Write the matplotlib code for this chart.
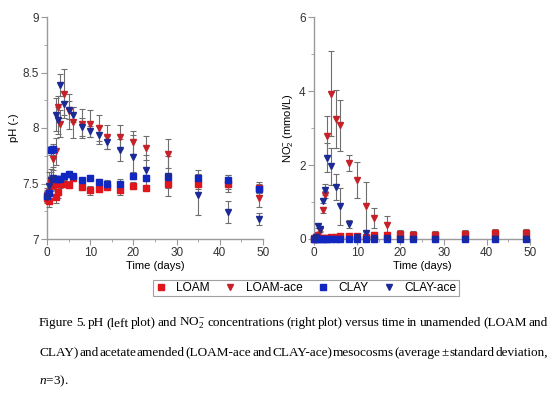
"""pH and nitrite time series in LOAM / CLAY mesocosms, with caption."""

import matplotlib

matplotlib.use("Agg")
import matplotlib.pyplot as plt
from matplotlib.ticker import MultipleLocator

plt.rcParams["font.family"] = ["Liberation Sans", "DejaVu Sans"]
plt.rcParams["mathtext.fontset"] = "custom"
plt.rcParams["mathtext.rm"] = "Liberation Serif"
plt.rcParams["mathtext.it"] = "Liberation Serif:italic"
plt.rcParams["mathtext.sf"] = "Liberation Sans"

days = [0, 0.5, 1, 1.5, 2, 2.5, 3, 4, 5, 6, 8, 10, 12, 14, 17, 20, 23, 28, 35, 42, 49]

# pH (-)
ph_loam = [7.37, 7.34, 7.52, 7.49, 7.38, 7.42, 7.50, 7.50, 7.49, 7.55, 7.47, 7.44,
           7.45, 7.47, 7.44, 7.48, 7.46, 7.50, 7.50, 7.50, 7.46]
ph_loam_sd = [0.04, 0.05, 0.05, 0.04, 0.06, 0.05, 0.04, 0.03, 0.03, 0.03, 0.03, 0.04,
              0.03, 0.03, 0.04, 0.03, 0.02, 0.04, 0.05, 0.05, 0.05]
ph_loam_ace = [7.40, 7.42, 7.50, 7.72, 7.79, 8.19, 8.04, 8.31, 8.15, 8.05, 8.04, 8.04,
               8.00, 7.92, 7.92, 7.87, 7.82, 7.77, 7.55, 7.50, 7.37]
ph_loam_ace_sd = [0.06, 0.08, 0.10, 0.10, 0.12, 0.10, 0.12, 0.22, 0.16, 0.14, 0.13, 0.12,
                  0.12, 0.11, 0.11, 0.10, 0.11, 0.13, 0.07, 0.08, 0.08]
ph_clay = [7.39, 7.41, 7.80, 7.81, 7.54, 7.54, 7.54, 7.57, 7.59, 7.57, 7.53, 7.55,
           7.51, 7.50, 7.50, 7.57, 7.55, 7.56, 7.55, 7.53, 7.45]
ph_clay_sd = [0.04, 0.05, 0.04, 0.05, 0.03, 0.03, 0.03, 0.02, 0.02, 0.02, 0.02, 0.03,
              0.03, 0.03, 0.04, 0.03, 0.03, 0.03, 0.04, 0.05, 0.05]
ph_clay_ace = [7.38, 7.48, 7.53, 7.55, 8.12, 8.07, 8.39, 8.22, 8.16, 8.12, 8.01, 7.97,
               7.94, 7.87, 7.80, 7.74, 7.62, 7.57, 7.40, 7.24, 7.18]
ph_clay_ace_sd = [0.06, 0.12, 0.10, 0.10, 0.15, 0.12, 0.10, 0.10, 0.08, 0.07, 0.08, 0.05,
                  0.08, 0.06, 0.10, 0.20, 0.14, 0.18, 0.18, 0.10, 0.05]

# NO2- (mmol/L)
no2_loam = [0.01, 0.02, 0.04, 0.03, 0.03, 0.04, 0.04, 0.05, 0.06, 0.07, 0.07, 0.08,
            0.05, 0.10, 0.10, 0.13, 0.12, 0.12, 0.14, 0.15, 0.15]
no2_loam_sd = [0.02, 0.02, 0.03, 0.03, 0.03, 0.03, 0.03, 0.04, 0.04, 0.05, 0.05, 0.06,
               0.06, 0.08, 0.08, 0.10, 0.09, 0.09, 0.10, 0.11, 0.12]
no2_loam_ace = [0.02, 0.05, 0.10, 0.25, 0.78, 1.20, 2.78, 3.93, 3.25, 3.07, 2.05, 1.60,
                0.88, 0.57, 0.38, 0.10, 0.10, 0.10, 0.10, 0.10, 0.10]
no2_loam_ace_sd = [0.02, 0.03, 0.05, 0.06, 0.08, 0.10, 0.55, 1.15, 0.78, 0.68, 0.22, 0.48,
                   0.67, 0.28, 0.25, 0.10, 0.08, 0.08, 0.10, 0.10, 0.10]
no2_clay = [0.00, 0.01, 0.01, 0.01, 0.01, 0.01, 0.01, 0.01, 0.01, 0.01, 0.01, 0.01,
            0.01, 0.01, 0.01, 0.00, 0.00, 0.00, 0.00, 0.00, 0.00]
no2_clay_sd = [0.01] * len(days)
no2_clay_ace = [0.01, 0.05, 0.36, 0.28, 1.03, 1.33, 2.20, 1.97, 1.40, 0.88, 0.40, 0.05,
                0.15, 0.03, 0.02, 0.01, 0.01, 0.01, 0.01, 0.01, 0.01]
no2_clay_ace_sd = [0.01, 0.03, 0.05, 0.06, 0.05, 0.15, 0.40, 0.50, 0.35, 0.50, 0.10, 0.05,
                   0.05, 0.02, 0.02, 0.01, 0.01, 0.01, 0.01, 0.01, 0.01]

labels = ["LOAM", "LOAM-ace", "CLAY", "CLAY-ace"]
colors = ["#e0161c", "#c62128", "#1028c0", "#1c2a96"]
markers = ["s", "v", "s", "v"]
sizes = [5.0, 4.6, 5.0, 4.6]

caption_lines = [
    "Figure 5. pH (left plot) and NO$_2^{-}$ concentrations (right plot) versus time in unamended (LOAM and",
    "CLAY) and acetate amended (LOAM-ace and CLAY-ace) mesocosms (average \u00b1 standard deviation,",
    "$n$=3).",
]

W, H = 554, 396
AXIS_GREY = "#9a9a9a"


def style_axis(ax):
    for side in ("top", "right"):
        ax.spines[side].set_visible(False)
    for side in ("left", "bottom"):
        ax.spines[side].set_color(AXIS_GREY)
        ax.spines[side].set_linewidth(1.0)
    ax.tick_params(which="both", direction="out", color=AXIS_GREY, labelcolor="#333333",
                   labelsize=8.5, pad=2)
    ax.tick_params(which="major", length=4)
    ax.tick_params(which="minor", length=2.5)
    ax.set_xlim(0, 50)
    ax.xaxis.set_major_locator(MultipleLocator(10))
    ax.xaxis.set_minor_locator(MultipleLocator(5))


def draw_series(ax, series):
    for (vals, sd), lab, col, mk, ms in zip(series, labels, colors, markers, sizes):
        h = ax.errorbar(days, vals, yerr=sd, fmt=mk, color=col, ms=ms, mec=col,
                        ecolor="#6e6e6e", elinewidth=0.8, capsize=2.2, capthick=0.8,
                        label=lab, clip_on=False, zorder=3)
        for part in h.lines[1] + h.lines[2][:1]:
            part.set_clip_on(False)


fig = plt.figure(figsize=(W / 100, H / 100), dpi=100)

ax1 = fig.add_axes([47 / W, 1 - 239 / H, 216 / W, 222 / H])
style_axis(ax1)
ax1.set_ylim(7, 9)
ax1.yaxis.set_minor_locator(MultipleLocator(0.25))
ax1.set_yticks([7, 7.5, 8, 8.5, 9], ["7", "7.5", "8", "8.5", "9"])
draw_series(ax1, [(ph_loam, ph_loam_sd), (ph_loam_ace, ph_loam_ace_sd),
                  (ph_clay, ph_clay_sd), (ph_clay_ace, ph_clay_ace_sd)])
ax1.set_xlabel("Time (days)", fontsize=8, labelpad=1)
ax1.set_ylabel("pH (-)", fontsize=8, labelpad=2)

ax2 = fig.add_axes([314 / W, 1 - 239 / H, 216 / W, 222 / H])
style_axis(ax2)
ax2.set_ylim(0, 6)
ax2.yaxis.set_major_locator(MultipleLocator(2))
ax2.yaxis.set_minor_locator(MultipleLocator(1))
draw_series(ax2, [(no2_loam, no2_loam_sd), (no2_loam_ace, no2_loam_ace_sd),
                  (no2_clay, no2_clay_sd), (no2_clay_ace, no2_clay_ace_sd)])
ax2.set_xlabel("Time (days)", fontsize=8, labelpad=1)
ax2.set_ylabel(r"NO$_\mathsf{2}^\mathsf{-}$ (mmol/L)", fontsize=8, labelpad=2)

leg_handles = [plt.Line2D([], [], ls="none", marker=m, color=c, ms=4)
               for m, c in zip(markers, colors)]
leg = fig.legend(leg_handles, labels, loc="center", bbox_to_anchor=(306 / W, 1 - 288 / H),
                 ncol=4, fontsize=8.6, frameon=True, fancybox=False, handlelength=0.8,
                 handletextpad=0.9, columnspacing=1.3, borderpad=0.2, borderaxespad=0,
                 edgecolor="#888888")
leg.get_frame().set_linewidth(0.8)

# caption, justified to the block width
renderer = fig.canvas.get_renderer()
x_left, x_right = 39, 548
for i, (line, y) in enumerate(zip(caption_lines, [323, 353, 381])):
    words = line.split(" ")
    texts = [fig.text(0, 1 - y / H, w, fontsize=9.5, family="Liberation Serif",
                      va="center", ha="left") for w in words]
    widths = [t.get_window_extent(renderer).width for t in texts]
    if i < len(caption_lines) - 1 and len(words) > 1:
        gap = (x_right - x_left - sum(widths)) / (len(words) - 1)
    else:
        gap = 2.5
    x = x_left
    for t, w in zip(texts, widths):
        t.set_x(x / W)
        x += w + gap

fig.savefig("out.png", dpi=100)
